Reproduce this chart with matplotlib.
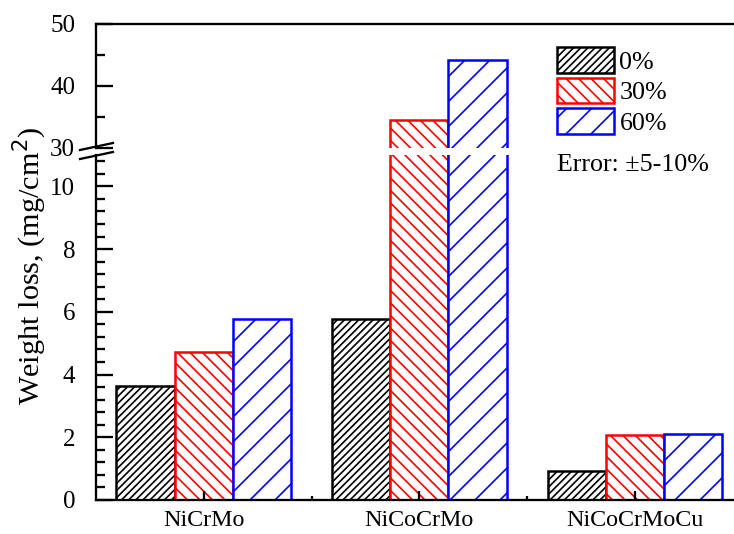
import numpy as np
import matplotlib
matplotlib.use("Agg")
import matplotlib.pyplot as plt
from matplotlib.lines import Line2D
from matplotlib.ticker import MultipleLocator

alloys = ["NiCrMo", "NiCoCrMo", "NiCoCrMoCu"]
series = ["0%", "30%", "60%"]
loss_0 = [3.62, 5.76, 0.94]
loss_30 = [4.72, 34.5, 2.06]
loss_60 = [5.76, 44.2, 2.10]

colors = ["black", "red", "blue"]
hatches = ["/" * 7, "\\" * 4, "//"]

plt.rcParams["font.family"] = ["Liberation Serif", "DejaVu Serif"]
plt.rcParams["font.size"] = 11.5
plt.rcParams["hatch.linewidth"] = 0.8
plt.rcParams["axes.linewidth"] = 1.1

W, H, DPI = 734, 534, 150
fig = plt.figure(figsize=(W / DPI, H / DPI), dpi=DPI)

left = 96 / W
ax_top = fig.add_axes([left, 1 - 148 / H, 1 - left, (148 - 24) / H])
ax_bot = fig.add_axes([left, 1 - 500 / H, 1 - left, (500 - 155) / H])

x = np.arange(1, len(alloys) + 1)
w = 0.27
vals = [loss_0, loss_30, loss_60]

for ax in (ax_top, ax_bot):
    for i, v in enumerate(vals):
        ax.bar(x + (i - 1) * w, v, w, facecolor="white", edgecolor=colors[i],
               hatch=hatches[i], linewidth=1.2, label=series[i])
    ax.set_xlim(0.5, 3.46)
    ax.spines["right"].set_visible(False)
    ax.tick_params(axis="y", which="major", direction="in", length=8, width=1.1,
                   pad=10, labelsize=12)
    ax.tick_params(axis="y", which="minor", direction="in", length=4.3, width=1.1)

ax_top.set_ylim(30, 50)
ax_top.yaxis.set_major_locator(MultipleLocator(10))
ax_top.yaxis.set_minor_locator(MultipleLocator(5))
ax_top.spines["bottom"].set_visible(False)
ax_top.set_xticks([])
ax_top.tick_params(axis="x", which="both", bottom=False, labelbottom=False)

ax_bot.set_ylim(0, 11)
ax_bot.yaxis.set_major_locator(MultipleLocator(2))
ax_bot.yaxis.set_minor_locator(MultipleLocator(0.4))
ax_bot.spines["top"].set_visible(False)
ax_bot.set_xticks(x)
ax_bot.set_xticklabels(alloys)
ax_bot.set_xticks(x[:-1] + 0.5, minor=True)
ax_bot.tick_params(axis="x", which="major", direction="in", length=4.5, width=1.1, pad=5)
ax_bot.tick_params(axis="x", which="minor", direction="in", length=2, width=1.1)

# break marks on the left axis
for (x0, y0, x1, y1) in [(80, 150, 113, 143), (80, 159, 113, 152)]:
    fig.add_artist(Line2D([x0 / W, x1 / W], [1 - y0 / H, 1 - y1 / H],
                          transform=fig.transFigure, color="black", lw=1.1))

fig.text(30 / W, 1 - 266 / H, "Weight loss, (mg/cm$^2$)", rotation=90,
         ha="center", va="center", fontsize=14.5)

ax_top.legend(loc="upper left", bbox_to_anchor=(557 / W, 1 - 47 / H),
              bbox_transform=fig.transFigure, frameon=False, borderpad=0,
              borderaxespad=0, handlelength=2.2, handleheight=1.15,
              labelspacing=0.15, handletextpad=0.2, fontsize=12.5)
fig.text(557 / W, 1 - 165 / H, "Error: \u00b15-10%", ha="left", va="center", fontsize=12.5)

fig.savefig("out.png", dpi=DPI)
